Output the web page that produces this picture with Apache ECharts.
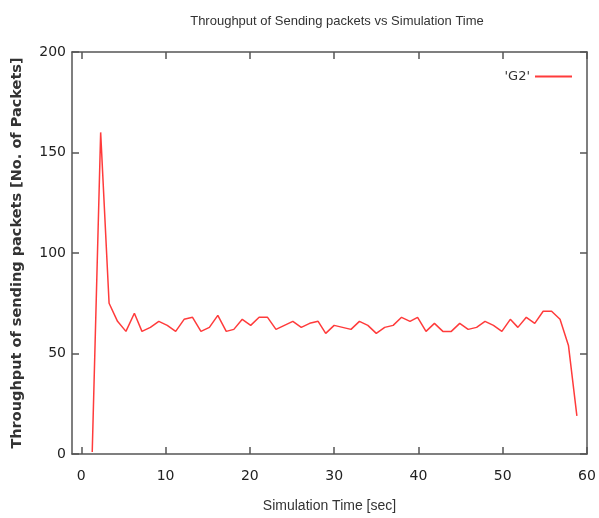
<!DOCTYPE html>
<html>
<head>
<meta charset="utf-8">
<script src="https://cdn.jsdelivr.net/npm/echarts@6/dist/echarts.min.js"></script>
<style>
  html, body { margin: 0; padding: 0; background: #fff; }
  #chart { width: 599px; height: 518px; }
</style>
</head>
<body>
<div id="chart"></div>
<script>
// ============================
// Datos
// ============================
var tiempos = [1.3, 2.3, 3.3, 4.3, 5.3, 6.3, 7.2, 8.2, 9.2, 10.2, 11.2, 12.2, 13.2, 14.2, 15.2, 16.2, 17.2,
    18.1, 19.1, 20.1, 21.1, 22.1, 23.1, 24.1, 25.1, 26.1, 27.1, 28.1,
    29.0, 30.0, 31.0, 32.0, 33.0, 34.0, 35.0, 36.0, 37.0, 38.0, 39.0,
    39.9, 40.9, 41.9, 42.9, 43.9, 44.9, 45.9, 46.9, 47.9, 48.9, 49.9, 50.9,
    51.8, 52.8, 53.8, 54.8, 55.8, 56.8, 57.8, 58.8];
var paquetesG2 = [1, 160, 75, 66, 61, 70, 61, 63, 66, 64, 61, 67, 68, 61, 63, 69, 61,
    62, 67, 64, 68, 68, 62, 64, 66, 63, 65, 66,
    60, 64, 63, 62, 66, 64, 60, 63, 64, 68, 66, 68,
    61, 65, 61, 61, 65, 62, 63, 66, 64, 61, 67,
    63, 68, 65, 71, 71, 67, 54, 19];
var xTicks = [0, 10, 20, 30, 40, 50, 60];

var chart = echarts.init(document.getElementById("chart"));
var lineaEje = { show: true, onZero: false, lineStyle: { color: "#555", width: 1.5 } };
var tickDentro = { show: true, inside: true, length: 7, lineStyle: { color: "#555", width: 1.5 } };

chart.setOption({
    animation: false,
    title: {
        text: "Throughput of Sending packets vs Simulation Time",
        left: 332,
        textAlign: "center",
        top: 10,
        textStyle: { fontFamily: "Liberation Sans", fontSize: 13, fontWeight: "normal", color: "#333" }
    },
    legend: {
        right: 22,
        top: 65,
        align: "right",
        itemWidth: 37,
        itemHeight: 10,
        icon: "path://M0,4 L37,4 L37,6 L0,6 Z",
        textStyle: { fontFamily: "DejaVu Sans", fontSize: 13, color: "#333" },
        data: ["'G2'"]
    },
    grid: { left: 72, right: 12, top: 52, bottom: 63 },
    xAxis: [
        {
            type: "value",
            min: -1.1,
            max: 60,
            name: "Simulation Time [sec]",
            nameLocation: "middle",
            nameGap: 45,
            nameTextStyle: { fontFamily: "Liberation Sans", fontSize: 14, color: "#333" },
            axisLine: lineaEje,
            axisTick: Object.assign({ customValues: xTicks }, tickDentro),
            axisLabel: { customValues: xTicks, margin: 15, fontFamily: "DejaVu Sans", fontSize: 14, color: "#222" },
            splitLine: { show: false }
        },
        {
            type: "value",
            position: "top",
            min: -1.1,
            max: 60,
            axisLine: lineaEje,
            axisTick: Object.assign({ customValues: xTicks }, tickDentro),
            axisLabel: { show: false },
            splitLine: { show: false }
        }
    ],
    yAxis: [
        {
            type: "value",
            min: 0,
            max: 200,
            interval: 50,
            name: "Throughput of sending packets [No. of Packets]",
            nameLocation: "middle",
            nameGap: 47,
            nameTextStyle: { fontFamily: "DejaVu Sans", fontSize: 14.5, fontWeight: "bold", color: "#333" },
            axisLine: lineaEje,
            axisTick: tickDentro,
            axisLabel: { margin: 6, fontFamily: "DejaVu Sans", fontSize: 14, color: "#222" },
            splitLine: { show: false }
        },
        {
            type: "value",
            position: "right",
            min: 0,
            max: 200,
            interval: 50,
            axisLine: lineaEje,
            axisTick: tickDentro,
            axisLabel: { show: false },
            splitLine: { show: false }
        }
    ],
    series: [
        {
            name: "'G2'",
            type: "line",
            showSymbol: false,
            data: tiempos.map((t, i) => [t, paquetesG2[i]]),
            lineStyle: { color: "#ff3b3b", width: 1.5 },
            itemStyle: { color: "#ff3b3b" }
        }
    ]
});
</script>
</body>
</html>
